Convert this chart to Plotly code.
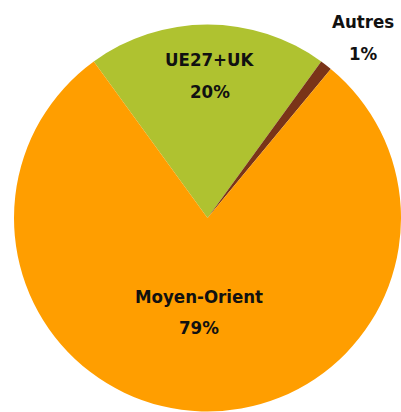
import plotly.graph_objects as go

labels = ["UE27+UK", "Autres", "Moyen-Orient"]
values = [20, 1, 79]
colors = ["#AFC230", "#7A3418", "#FF9E00"]

# label anchor points (pixel positions of each label block: x, name-line y, pct-line y)
label_pos = {
    "UE27+UK": (210, 60, 91),
    "Autres": (363, 22, 53),
    "Moyen-Orient": (199, 296, 327),
}

W, H = 401, 412
FONT = "Liberation Sans Narrow, DejaVu Sans Condensed, Arial Narrow, sans-serif"

fig = go.Figure(
    go.Pie(
        labels=labels,
        values=values,
        marker=dict(colors=colors, line=dict(width=0)),
        sort=False,
        direction="clockwise",
        rotation=-36,
        textinfo="none",
        hoverinfo="label+percent",
        domain=dict(x=[14 / W, 1], y=[0, 1 - 24 / H]),
        showlegend=False,
    )
)

annotations = []
for lab, val in zip(labels, values):
    x, y1, y2 = label_pos[lab]
    for txt, y in ((lab, y1), (f"{val}%", y2)):
        annotations.append(
            dict(
                text=f"<b>{txt}</b>",
                x=x / W,
                y=1 - y / H,
                xref="paper",
                yref="paper",
                xanchor="center",
                yanchor="middle",
                showarrow=False,
                font=dict(family=FONT, size=18.5, color="#111111"),
            )
        )

fig.update_layout(
    width=W,
    height=H,
    margin=dict(l=0, r=0, t=0, b=0),
    paper_bgcolor="white",
    plot_bgcolor="white",
    annotations=annotations,
)

fig.write_html(
    "out.html",
    config={"displayModeBar": False},
    post_script="document.body.style.margin='0';document.body.style.overflow='hidden';",
)
